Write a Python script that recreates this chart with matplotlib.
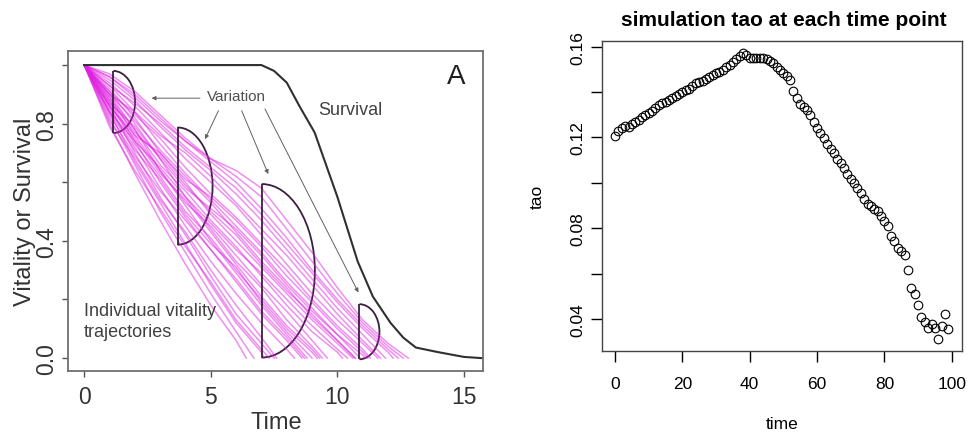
"""Vitality trajectories (A) and simulated tao per time point."""
import numpy as np
import matplotlib; matplotlib.use("Agg")
import matplotlib.pyplot as plt
from matplotlib.patches import Arc

plt.rcParams["font.family"] = ["Liberation Sans", "DejaVu Sans"]

# ---- panel A data ----
# vitality at t = 0, 1, 2, ... for each individual, plus the time it reaches zero
traj_vals = [
    [1, .80, .63, .47, .32, .18, .06],
    [1, .82, .66, .50, .36, .22, .09],
    [1, .84, .67, .53, .39, .25, .12, .02],
    [1, .79, .64, .51, .38, .26, .13, .03],
    [1, .86, .70, .55, .42, .28, .15, .05],
    [1, .81, .68, .54, .43, .30, .18, .07],
    [1, .85, .72, .58, .45, .33, .22, .12, .03],
    [1, .88, .74, .60, .48, .37, .26, .15, .06],
    [1, .83, .69, .57, .47, .37, .27, .16, .07],
    [1, .90, .78, .64, .52, .40, .29, .18, .08],
    [1, .84, .71, .61, .49, .39, .31, .19, .09],
    [1, .87, .73, .62, .50, .41, .30, .20, .10, .02],
    [1, .86, .75, .63, .54, .43, .32, .21, .11, .03],
    [1, .91, .80, .68, .55, .44, .33, .24, .13, .04],
    [1, .89, .76, .64, .53, .45, .35, .25, .16, .06],
    [1, .89, .78, .66, .57, .47, .38, .28, .18, .09, .02],
    [1, .84, .74, .65, .55, .46, .37, .29, .20, .11, .03],
    [1, .92, .82, .70, .60, .49, .40, .31, .22, .13, .05],
    [1, .88, .77, .69, .59, .50, .42, .32, .23, .15, .06],
    [1, .90, .81, .71, .62, .53, .43, .33, .24, .14, .06],
    [1, .87, .79, .68, .58, .51, .44, .35, .25, .16, .08],
    [1, .93, .84, .73, .63, .54, .45, .36, .26, .17, .08, .01],
    [1, .86, .76, .70, .61, .55, .47, .38, .28, .19, .10, .02],
    [1, .91, .83, .75, .65, .56, .48, .39, .30, .20, .11, .03],
    [1, .94, .86, .77, .68, .60, .52, .42, .32, .22, .13, .05],
    [1, .90, .84, .76, .70, .62, .53, .44, .35, .25, .15, .06],
    [1, .95, .88, .79, .71, .64, .56, .47, .37, .27, .17, .08],
    [1, .93, .87, .80, .72, .65, .58, .49, .39, .29, .19, .10, .02],
    [1, .96, .90, .82, .74, .67, .60, .51, .41, .30, .20, .11, .03],
    [1, .97, .91, .83, .75, .68, .62, .55, .44, .33, .22, .12, .04],
    [1, .96, .89, .81, .74, .68, .64, .58, .47, .36, .24, .13, .05],
]
traj_end = [6.4, 6.7, 7.1, 7.3, 7.5, 7.6, 8.3, 8.6, 8.7, 8.8, 9.0, 9.2, 9.3, 9.4, 9.6,
            10.2, 10.4, 10.6, 10.7, 10.7, 10.9, 11.1, 11.2, 11.3,
            11.6, 11.7, 11.9, 12.2, 12.4, 12.6, 12.8]

surv_t = [0, 7.0, 7.5, 8.0, 8.5, 9.1, 10.0, 10.8, 11.4, 12.1, 12.6, 13.1, 14.0, 15.0, 15.7]
surv_s = [1.0, 1.0, 0.98, 0.94, 0.86, 0.77, 0.55, 0.33, 0.21, 0.12, 0.07, 0.036, 0.02, 0.004, 0.0]

# variation half-ellipses: left edge x, centre y, half height, width (data units)
var_x = [1.15, 3.69, 7.01, 10.87]
var_y = [0.874, 0.587, 0.298, 0.09]
var_h = [0.106, 0.200, 0.296, 0.094]
var_w = [0.86, 1.38, 2.10, 0.79]

# arrows from the "Variation" label: (start) -> (end)
arrow_from = [(4.57, 0.887), (5.30, 0.844), (6.22, 0.844), (7.14, 0.850)]
arrow_to = [(2.66, 0.887), (4.77, 0.747), (7.27, 0.628), (10.83, 0.224)]

# ---- right panel data ----
tao_time = list(range(100))
tao = [0.1208, 0.1228, 0.1242, 0.1250, 0.1248, 0.1260, 0.1268, 0.1278, 0.1288, 0.1298,
       0.1306, 0.1318, 0.1330, 0.1342, 0.1350, 0.1356, 0.1364, 0.1374, 0.1382, 0.1392,
       0.1400, 0.1408, 0.1414, 0.1425, 0.1440, 0.1446, 0.1450, 0.1458, 0.1466, 0.1474,
       0.1482, 0.1490, 0.1498, 0.1508, 0.1518, 0.1530, 0.1544, 0.1560, 0.1572, 0.1564,
       0.1552, 0.1550, 0.1548, 0.1550, 0.1548, 0.1546, 0.1538, 0.1526, 0.1512, 0.1496,
       0.1482, 0.1470, 0.1452, 0.1404, 0.1372, 0.1348, 0.1336, 0.1322, 0.1300, 0.1270,
       0.1242, 0.1218, 0.1198, 0.1172, 0.1150, 0.1130, 0.1106, 0.1086, 0.1066, 0.1040,
       0.1016, 0.1000, 0.0976, 0.0954, 0.0930, 0.0906, 0.0896, 0.0886, 0.0876, 0.0856,
       0.0832, 0.0810, 0.0766, 0.0746, 0.0712, 0.0700, 0.0680, 0.0616, 0.0536, 0.0512,
       0.0464, 0.0410, 0.0386, 0.0362, 0.0378, 0.0362, 0.0310, 0.0370, 0.0422, 0.0356]

W, H = 969, 435
fig = plt.figure(figsize=(W / 100, H / 100), dpi=100)

# ================= panel A =================
ax1 = fig.add_axes([68 / W, 1 - 372 / H, 415 / W, 320 / H])
for vals, end in zip(traj_vals, traj_end):
    t = list(range(len(vals))) + [end]
    ax1.plot(t, list(vals) + [0], color="#e020e0", alpha=0.5, lw=1.1)

ax1.plot(surv_t, surv_s, color="#303030", lw=1.5)

for x0, yc, h, w in zip(var_x, var_y, var_h, var_w):
    ax1.add_patch(Arc((x0, yc), 2 * w, 2 * h, theta1=-90, theta2=90,
                      color="#3a1f3f", lw=1.3))
    ax1.vlines(x0, yc - h, yc + h, color="#3a1f3f", lw=1.3)

for (xs, ys), (xe, ye) in zip(arrow_from, arrow_to):
    ax1.annotate("", xy=(xe, ye), xytext=(xs, ys),
                 arrowprops=dict(arrowstyle="-|>", color="#606060", lw=0.7,
                                 mutation_scale=6, shrinkA=0, shrinkB=0))

ax1.text(6.02, 0.895, "Variation", ha="center", va="center", fontsize=11, color="#505050")
ax1.text(10.5, 0.85, "Survival", ha="center", va="center", fontsize=13, color="#404040")
ax1.text(14.7, 0.963, "A", ha="center", va="center", fontsize=20, color="#202020")
ax1.text(0.0, 0.19, "Individual vitality\ntrajectories", ha="left", va="top",
         fontsize=13, color="#404040", linespacing=1.3)

ax1.set_xlim(-0.64, 15.75)
ax1.set_ylim(-0.044, 1.048)
ax1.set_xticks([0, 5, 10, 15])
ax1.set_xticklabels(["0", "5", "10", "15"])
ax1.set_yticks([0, 0.2, 0.4, 0.6, 0.8, 1.0])
ax1.set_yticklabels(["0.0", "", "0.4", "", "0.8", ""], rotation=90, va="center")
ax1.tick_params(direction="out", length=4, width=1, colors="#555555",
                labelcolor="#333333", labelsize=16.5)
ax1.tick_params(axis="x", pad=6)
ax1.tick_params(axis="y", pad=3)
for s in ax1.spines.values():
    s.set_color("#707070")
    s.set_linewidth(1.3)
fig.text(276 / W, 1 - 423 / H, "Time", ha="center", va="center", fontsize=17, color="#333333")
fig.text(25 / W, 1 - 212 / H, "Vitality or Survival", ha="center", va="center",
         rotation=90, fontsize=17, color="#333333")

# ================= right panel =================
ax2 = fig.add_axes([601.7 / W, 1 - 352.3 / H, 360 / W, 310.6 / H])
ax2.plot(tao_time, tao, linestyle="none", marker="o", markersize=6.2,
         markerfacecolor="none", markeredgecolor="black", markeredgewidth=0.8)
ax2.set_xlim(-3.96, 102.96)
ax2.set_ylim(0.0258, 0.1626)
ax2.set_xticks([0, 20, 40, 60, 80, 100])
ax2.set_yticks([0.04, 0.06, 0.08, 0.10, 0.12, 0.14, 0.16])
ax2.set_yticklabels(["0.04", "", "0.08", "", "0.12", "", "0.16"], rotation=90, va="center")
ax2.tick_params(direction="out", length=8, width=1, labelsize=12.5)
ax2.tick_params(axis="x", pad=10)
ax2.tick_params(axis="y", pad=4)
for s in ax2.spines.values():
    s.set_color("#444444")
    s.set_linewidth(1.0)
fig.text(784 / W, 1 - 21 / H, "simulation tao at each time point", ha="center", va="center",
         fontsize=15, fontweight="bold")
fig.text(782 / W, 1 - 425 / H, "time", ha="center", va="center", fontsize=12.5)
fig.text(537 / W, 1 - 197 / H, "tao", ha="center", va="center", rotation=90, fontsize=12.5)

fig.savefig("out.png", dpi=100)
